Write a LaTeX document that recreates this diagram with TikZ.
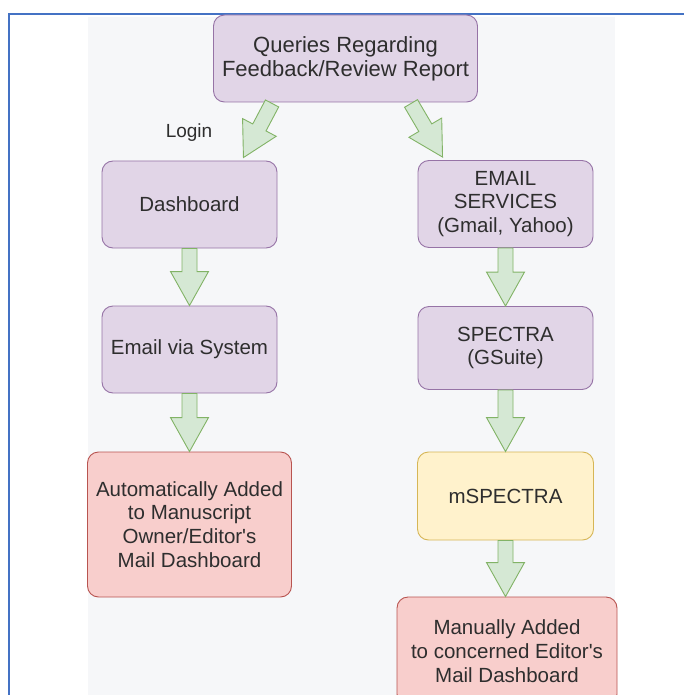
\documentclass[tikz,border=0pt]{standalone}
\usepackage{fontspec}
\setmainfont{Liberation Sans}
\usetikzlibrary{calc}
\definecolor{pfill}{HTML}{E1D5E7}
\definecolor{pdraw}{HTML}{9673A6}
\definecolor{rfill}{HTML}{F8CECC}
\definecolor{rdraw}{HTML}{B85450}
\definecolor{yfill}{HTML}{FFF2CC}
\definecolor{ydraw}{HTML}{D6B656}
\definecolor{gfill}{HTML}{D5E8D4}
\definecolor{gdraw}{HTML}{82B366}
\definecolor{bline}{HTML}{4472C4}
\definecolor{bgc}{HTML}{F6F7F9}
\definecolor{txt}{HTML}{2E2E2E}
\tikzset{
  box/.style={rounded corners=11pt, line width=0.9pt, align=center, text=txt,
    inner sep=0pt, font=\fontsize{20.5}{23.8}\selectfont},
  purplebox/.style={box, fill=pfill, draw=pdraw},
  redbox/.style={box, fill=rfill, draw=rdraw},
  yellowbox/.style={box, fill=yfill, draw=ydraw},
  garrow/.style={fill=gfill, draw=gdraw, line width=0.9pt, line join=miter},
  lbl/.style={text=txt, font=\fontsize{19}{22}\selectfont}
}
\newcommand\blockarrow[2]{%
  \draw[garrow] let \p1=(#1), \p2=(#2),
     \n1={atan2(\y2-\y1,\x2-\x1)},
     \n2={veclen(\x2-\x1,\y2-\y1)-34} in
     ($(\p1)+(\n1-90:7.5pt)$) -- ($(\p1)+({\n1}:{\n2})+(\n1-90:7.5pt)$)
     -- ($(\p1)+({\n1}:{\n2})+(\n1-90:19pt)$) -- (\p2)
     -- ($(\p1)+({\n1}:{\n2})+(\n1+90:19pt)$) -- ($(\p1)+({\n1}:{\n2})+(\n1+90:7.5pt)$)
     -- ($(\p1)+(\n1+90:7.5pt)$) -- cycle;}
\begin{document}
\begin{tikzpicture}[x=1pt, y=-1pt]
\useasboundingbox (0,0) rectangle (684,695);
\clip (0,0) rectangle (684,695);
\fill[white] (0,0) rectangle (684,695);
\fill[bgc] (88,17) rectangle (615,695);
\draw[bline, line width=1.6pt] (684,14) -- (9,14) -- (9,696);

\node[purplebox, minimum width=264pt, minimum height=87pt,
  font=\fontsize{22}{24}\selectfont] (top) at (345.5,58.5)
  {Queries Regarding\\Feedback/Review Report};
\node[purplebox, minimum width=175pt, minimum height=87pt] (dash) at (189.5,204.5) {Dashboard};
\node[purplebox, minimum width=175pt, minimum height=87pt] (ems) at (505.5,204)
  {EMAIL\\SERVICES\\(Gmail, Yahoo)};
\node[purplebox, minimum width=175pt, minimum height=87pt] (evs) at (189.5,349.5) {Email via System};
\node[purplebox, minimum width=175pt, minimum height=83pt] (spec) at (505.5,348)
  {SPECTRA\\(GSuite)};
\node[redbox, minimum width=204pt, minimum height=145pt] (auto) at (189.5,524.5)
  {Automatically Added\\to Manuscript\\Owner/Editor\textquotesingle s\\Mail Dashboard};
\node[yellowbox, minimum width=176pt, minimum height=88pt] (msp) at (505.5,496) {mSPECTRA};
\node[redbox, minimum width=220pt, minimum height=108pt] (man) at (507,651)
  {Manually Added\\to concerned Editor\textquotesingle s\\Mail Dashboard};

\node[lbl] (login) at (189,133) {Login};

\coordinate (la) at ($(top.south west)+(59,1)$);
\coordinate (lb) at ($(dash.north east)+(-34,-3)$);
\coordinate (ra) at ($(top.south west)+(198,1)$);
\coordinate (rb) at ($(ems.north west)+(25,-3)$);
\coordinate (mb) at (msp.south |- man.north);

\blockarrow{la}{lb}
\blockarrow{ra}{rb}
\blockarrow{dash.south}{evs.north}
\blockarrow{ems.south}{spec.north}
\blockarrow{evs.south}{auto.north}
\blockarrow{spec.south}{msp.north}
\blockarrow{msp.south}{mb}
\end{tikzpicture}
\end{document}
